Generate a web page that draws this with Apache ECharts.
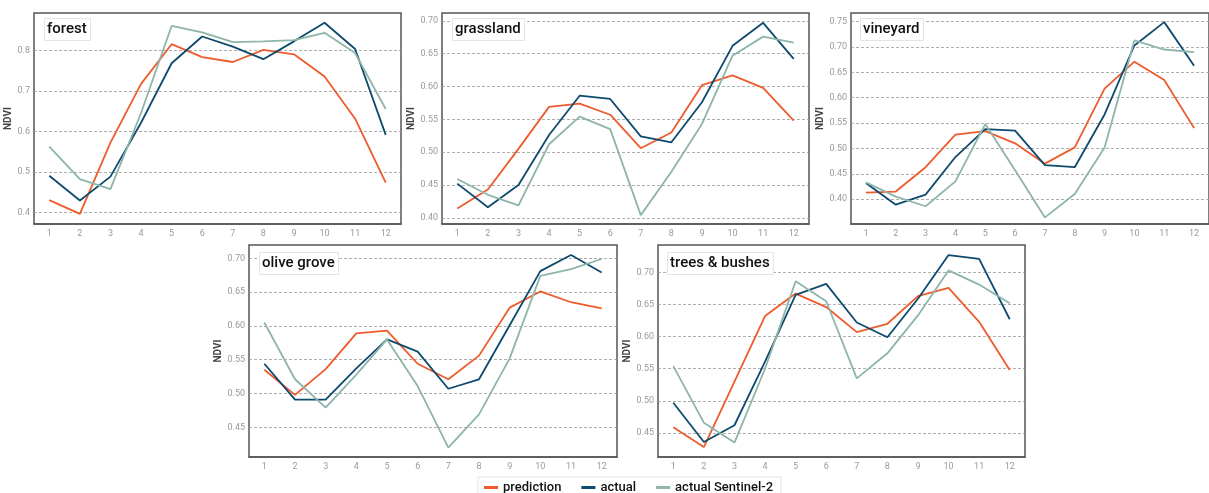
<!DOCTYPE html>
<html>
<head>
<meta charset="utf-8">
<script src="https://cdn.jsdelivr.net/npm/echarts@6/dist/echarts.min.js"></script>
<style>
  html, body { margin: 0; padding: 0; background: #fff; }
  #chart { width: 1209px; height: 493px; }
</style>
</head>
<body>
<div id="chart"></div>
<script>
const months = ['1', '2', '3', '4', '5', '6', '7', '8', '9', '10', '11', '12']
const seriesNames = ['prediction', 'actual', 'actual Sentinel-2']

const forestPrediction = [0.430, 0.396, 0.572, 0.717, 0.815, 0.783, 0.771, 0.801, 0.790, 0.735, 0.631, 0.473]
const forestActual = [0.490, 0.429, 0.488, 0.621, 0.768, 0.834, 0.809, 0.778, 0.822, 0.868, 0.803, 0.591]
const forestSentinel = [0.562, 0.482, 0.457, 0.645, 0.860, 0.844, 0.820, 0.822, 0.825, 0.843, 0.793, 0.655]

const grasslandPrediction = [0.414, 0.443, 0.505, 0.569, 0.574, 0.557, 0.506, 0.530, 0.602, 0.617, 0.598, 0.548]
const grasslandActual = [0.452, 0.416, 0.450, 0.526, 0.586, 0.581, 0.524, 0.515, 0.576, 0.662, 0.697, 0.642]
const grasslandSentinel = [0.459, 0.435, 0.419, 0.512, 0.554, 0.535, 0.404, 0.470, 0.543, 0.647, 0.676, 0.667]

const vineyardPrediction = [0.413, 0.415, 0.463, 0.527, 0.534, 0.510, 0.470, 0.502, 0.618, 0.671, 0.635, 0.540]
const vineyardActual = [0.432, 0.389, 0.409, 0.483, 0.538, 0.535, 0.467, 0.463, 0.567, 0.703, 0.749, 0.663]
const vineyardSentinel = [0.433, 0.405, 0.386, 0.435, 0.548, 0.457, 0.364, 0.410, 0.502, 0.713, 0.695, 0.690]

const olivePrediction = [0.535, 0.498, 0.536, 0.589, 0.593, 0.544, 0.521, 0.556, 0.627, 0.651, 0.635, 0.626]
const oliveActual = [0.544, 0.491, 0.491, 0.537, 0.580, 0.562, 0.507, 0.521, 0.601, 0.681, 0.705, 0.679]
const oliveSentinel = [0.605, 0.521, 0.479, 0.528, 0.580, 0.511, 0.420, 0.469, 0.552, 0.674, 0.684, 0.699]

const treesPrediction = [0.459, 0.428, 0.530, 0.632, 0.667, 0.646, 0.607, 0.620, 0.663, 0.676, 0.623, 0.548]
const treesActual = [0.497, 0.436, 0.462, 0.561, 0.665, 0.682, 0.622, 0.599, 0.659, 0.727, 0.721, 0.627]
const treesSentinel = [0.554, 0.466, 0.435, 0.550, 0.686, 0.655, 0.535, 0.574, 0.633, 0.703, 0.681, 0.652]

const COLORS = ['#ee5b2c', '#0e4a6e', '#8db5a9']

// layout of each panel, px
const panels = [
  { title: 'forest', data: [forestPrediction, forestActual, forestSentinel],
    box: [34, 13, 367, 211], y: [0.371, 0.892, 0.1], decimals: 1, nameGap: 14, titleAt: [44, 18] },
  { title: 'grassland', data: [grasslandPrediction, grasslandActual, grasslandSentinel],
    box: [442, 13, 367, 211], y: [0.3905, 0.712, 0.05], decimals: 2, nameGap: 21, titleAt: [452, 18] },
  { title: 'vineyard', data: [vineyardPrediction, vineyardActual, vineyardSentinel],
    box: [851, 13, 366, 211], y: [0.351, 0.767, 0.05], decimals: 2, nameGap: 24, titleAt: [860, 18] },
  { title: 'olive grove', data: [olivePrediction, oliveActual, oliveSentinel],
    box: [249, 245, 368, 212], y: [0.406, 0.7197, 0.05], decimals: 2, nameGap: 22, titleAt: [259, 252] },
  { title: 'trees & bushes', data: [treesPrediction, treesActual, treesSentinel],
    box: [658, 245, 367, 212], y: [0.4126, 0.7426, 0.05], decimals: 2, nameGap: 21, titleAt: [667, 252] },
]

const tickFont = { color: '#9a9a9a', fontSize: 9, fontFamily: 'Roboto' }

const chart = echarts.init(document.getElementById('chart'), null, { renderer: 'canvas' })

chart.setOption({
  backgroundColor: '#fff',
  animation: false,
  title: panels.map(p => ({
    text: p.title,
    left: p.titleAt[0],
    top: p.titleAt[1],
    padding: [4, 4, 4, 3],
    borderColor: '#e4e4e4',
    borderWidth: 1,
    backgroundColor: '#fff',
    textStyle: { fontFamily: 'Roboto', fontSize: 15, fontWeight: 500, color: '#111' },
  })),
  legend: {
    left: 478,
    top: 477,
    data: seriesNames,
    icon: 'rect',
    itemWidth: 14,
    itemHeight: 3,
    itemGap: 20,
    padding: [4, 8, 4, 6],
    borderColor: '#e2e2e2',
    borderWidth: 1,
    textStyle: { fontFamily: 'Roboto', fontSize: 13, fontWeight: 500, color: '#111' },
  },
  grid: panels.map(p => ({
    left: p.box[0], top: p.box[1], width: p.box[2], height: p.box[3],
    show: true,
    borderColor: '#555',
    borderWidth: 1.5,
    backgroundColor: 'transparent',
  })),
  xAxis: panels.map((p, i) => ({
    type: 'category',
    gridIndex: i,
    data: months,
    boundaryGap: true,
    axisLine: { lineStyle: { color: '#555', width: 1.5 } },
    axisTick: { alignWithLabel: true, length: 3, lineStyle: { color: '#777' } },
    axisLabel: { ...tickFont, margin: 5 },
    splitLine: { show: false },
  })),
  yAxis: panels.map((p, i) => ({
    type: 'value',
    gridIndex: i,
    min: p.y[0],
    max: p.y[1],
    minInterval: p.y[2],
    maxInterval: p.y[2],
    name: 'NDVI',
    nameLocation: 'middle',
    nameRotate: 90,
    nameGap: p.nameGap,
    nameTextStyle: { fontFamily: 'Roboto', fontSize: 10, fontWeight: 'bold', color: '#444' },
    axisLine: { show: false },
    axisTick: { show: false },
    axisLabel: {
      ...tickFont,
      margin: 4,
      showMinLabel: false,
      showMaxLabel: false,
      formatter: v => v.toFixed(p.decimals),
    },
    splitLine: {
      show: true,
      showMinLine: false,
      showMaxLine: false,
      lineStyle: { color: '#9a9a9a', width: 0.8, type: [3, 2] },
    },
  })),
  series: panels.flatMap((p, i) => p.data.map((values, k) => ({
    name: seriesNames[k],
    type: 'line',
    xAxisIndex: i,
    yAxisIndex: i,
    data: values,
    showSymbol: false,
    symbol: 'none',
    z: 2 + k,
    lineStyle: { color: COLORS[k], width: 1.8 },
    itemStyle: { color: COLORS[k] },
  }))),
})
</script>
</body>
</html>
